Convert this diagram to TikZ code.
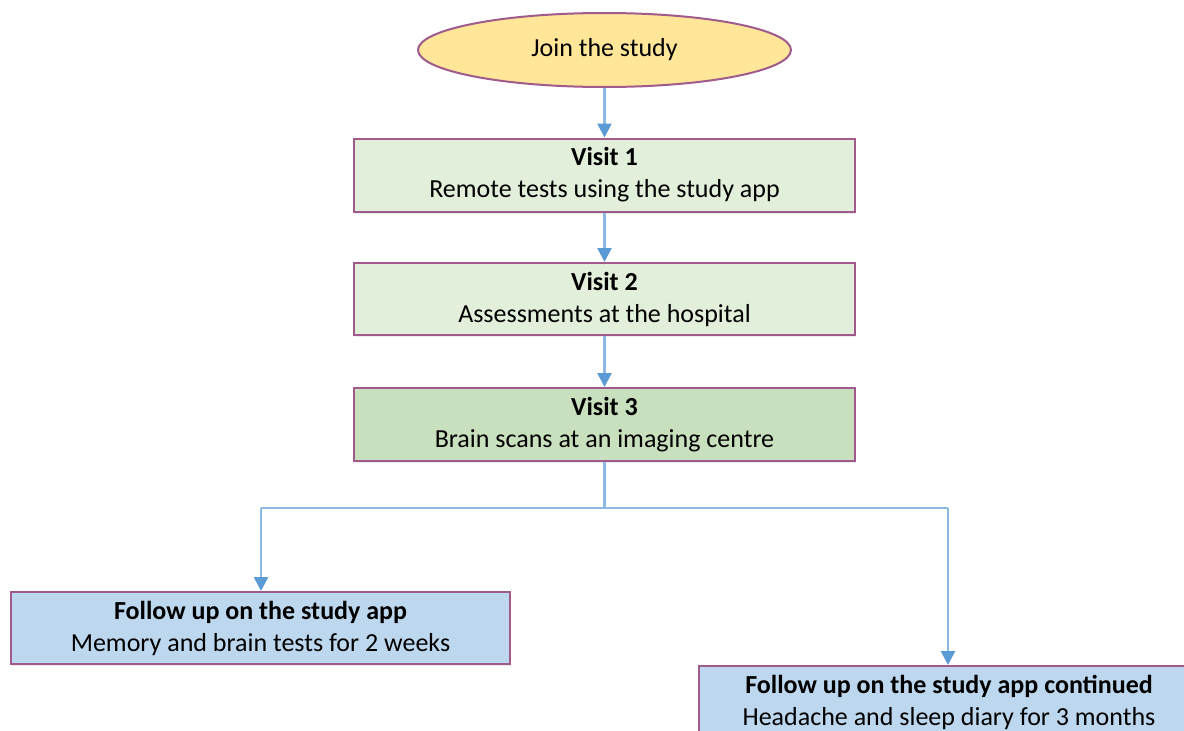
\documentclass[tikz,border=0pt]{standalone}
\usepackage{fontspec}
\setmainfont{Carlito}
\usetikzlibrary{shapes.geometric,arrows.meta,shadows}
\definecolor{edgepurple}{HTML}{A05A8C}
\definecolor{yellowfill}{HTML}{FFE699}
\definecolor{greenA}{HTML}{E2EFDA}
\definecolor{greenB}{HTML}{C9E0BE}
\definecolor{bluefill}{HTML}{BDD7EE}
\definecolor{lineblue}{HTML}{8DB8E4}
\definecolor{tipblue}{HTML}{5B9BD5}
\tikzset{
  stepbox/.style={draw=edgepurple, line width=2pt, minimum height=73pt, align=center,
    inner sep=0pt, font=\fontsize{26}{32}\selectfont,
    drop shadow={shadow xshift=1pt, shadow yshift=-2pt, opacity=0.15}},
  conn/.style={draw=lineblue, line width=2.5pt, -{Triangle[width=14pt,length=14pt,fill=tipblue,color=tipblue]}},
  plain/.style={draw=lineblue, line width=2.5pt}
}
\begin{document}
\begin{tikzpicture}[x=1pt,y=-1pt]
\useasboundingbox (0,0) rectangle (1184,731);
\node[ellipse, draw=edgepurple, line width=2pt, fill=yellowfill, minimum width=373pt, minimum height=74pt, inner sep=0pt, font=\fontsize{26}{30}\selectfont] (join) at (604.5,50) {Join the study};
\node[stepbox, fill=greenA, minimum width=501pt] (v1) at (604.5,175) {\textbf{Visit 1}\\Remote tests using the study app};
\node[stepbox, fill=greenA, minimum width=501pt, minimum height=72pt] (v2) at (604.5,299) {\textbf{Visit 2}\\Assessments at the hospital};
\node[stepbox, fill=greenB, minimum width=501pt] (v3) at (604.5,424.5) {\textbf{Visit 3}\\Brain scans at an imaging centre};
\node[stepbox, fill=bluefill, minimum width=499pt, minimum height=72pt] (f1) at (260.5,628) {\textbf{Follow up on the study app}\\Memory and brain tests for 2 weeks};
\node[stepbox, fill=bluefill, minimum width=500pt, minimum height=72pt, anchor=north west] (f2) at (698,665) {\textbf{Follow up on the study app continued}\\Headache and sleep diary for 3 months};
\coordinate (split) at (604.5,508);
\coordinate (lk) at (261,508);
\coordinate (rk) at (948,508);
\draw[conn] (join) -- (v1);
\draw[conn] (v1) -- (v2);
\draw[conn] (v2) -- (v3);
\draw[plain] (v3.south) -- (split);
\draw[plain] (lk) -- (rk);
\draw[conn] (lk) -- (lk |- f1.north);
\draw[conn] (rk) -- (rk |- f2.north);
\end{tikzpicture}
\end{document}
